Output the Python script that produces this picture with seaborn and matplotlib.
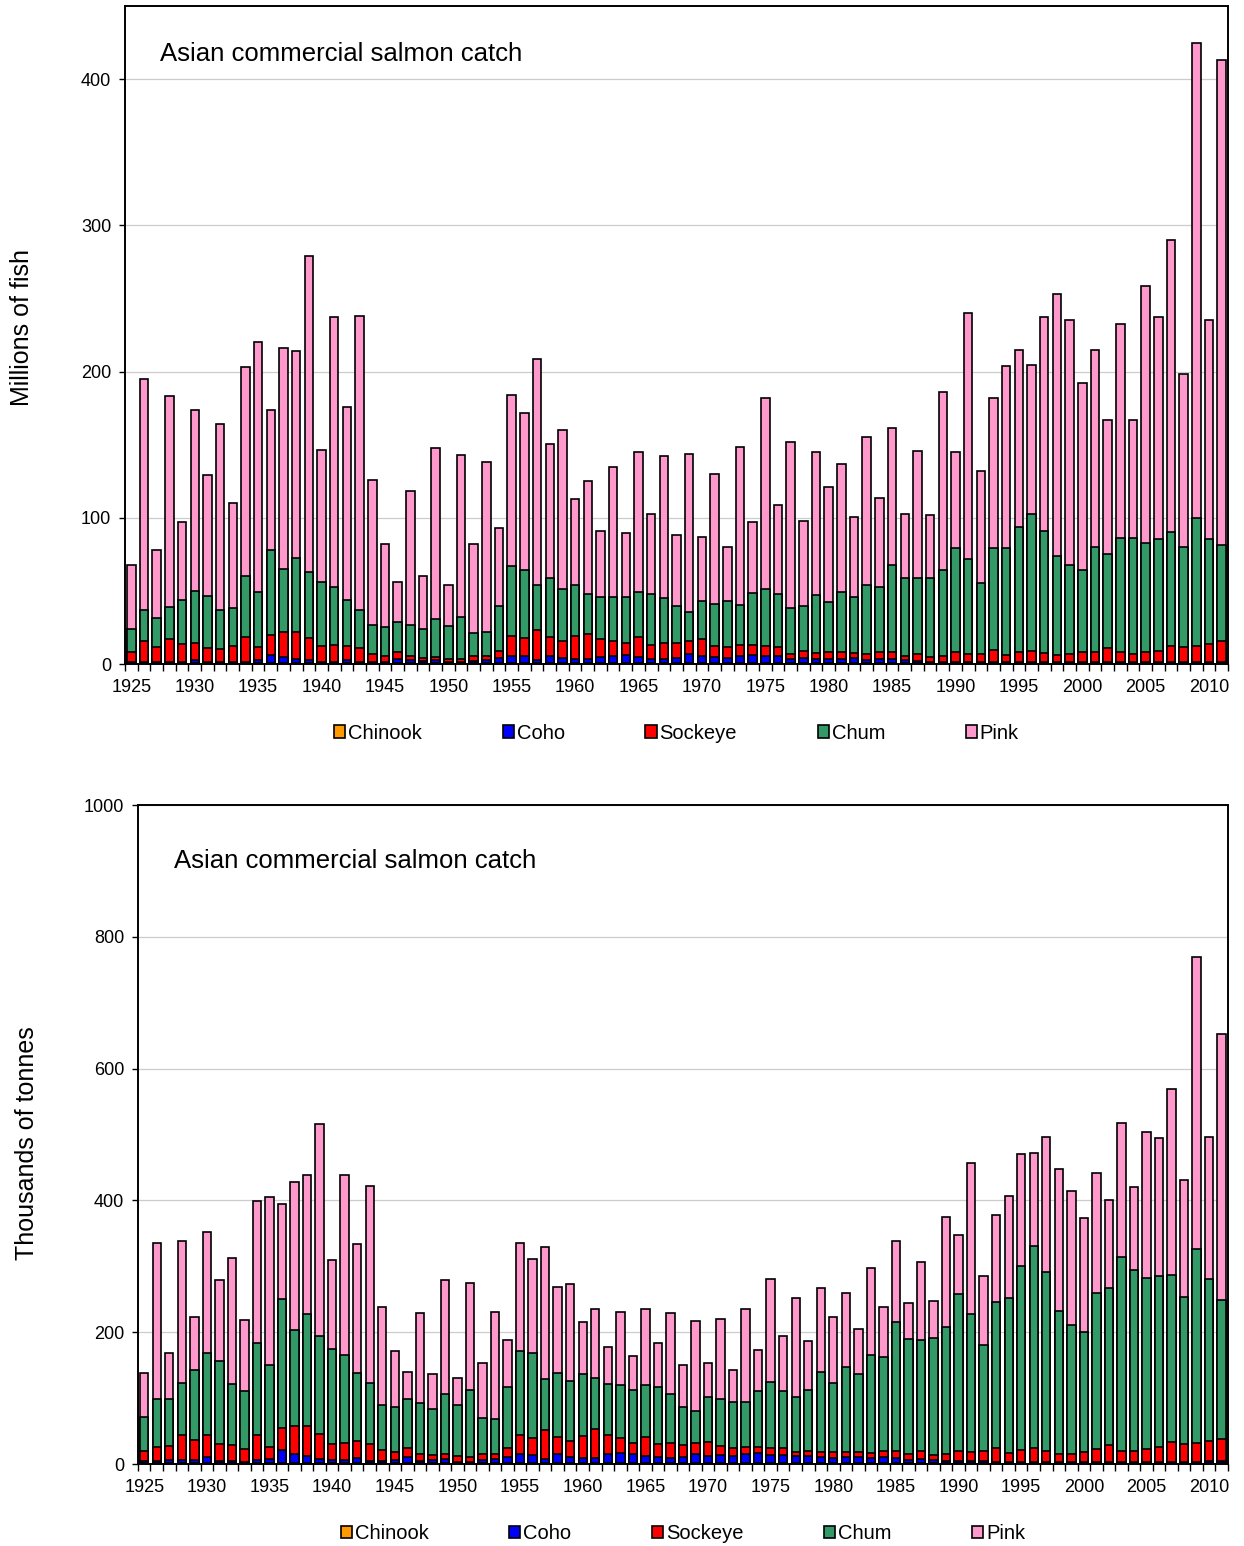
import numpy as np
import pandas as pd
import matplotlib
matplotlib.use("Agg")
import matplotlib.pyplot as plt
from matplotlib.patches import Patch
import seaborn as sns

years = list(range(1925, 2012))
species = ['Chinook', 'Coho', 'Sockeye', 'Chum', 'Pink']
colors = ['#FF9900', '#0000FF', '#FF0000', '#339966', '#FF99CC']

# millions of fish
fish_chinook = [0.5, 0.5, 0.5, 0.5, 0.5, 0.5, 0.5, 0.5, 0.5, 0.5,
                0.5, 0.5, 0.5, 0.5, 0.5, 0.5, 0.5, 0.5, 0.5, 0.5,
                0.5, 0.5, 0.5, 0.5, 0.5, 0.5, 0.5, 0.5, 0.5, 0.5,
                0.5, 0.5, 0.5, 0.5, 0.5, 0.5, 0.5, 0.5, 0.5, 0.5,
                0.5, 0.5, 0.5, 0.5, 0.5, 0.5, 0.5, 0.5, 0.5, 0.5,
                0.5, 0.5, 0.5, 0.5, 0.5, 0.5, 0.5, 0.5, 0.5, 0.5,
                0.5, 0.5, 0.5, 0.5, 0.5, 0.5, 0.5, 0.5, 0.5, 0.5,
                0.5, 0.5, 0.5, 0.5, 0.5, 0.5, 0.5, 0.5, 0.5, 0.5,
                0.5, 0.5, 0.5, 0.5, 0.5, 0.5, 0.5]
fish_coho = [1.0, 1.0, 1.0, 1.0, 1.0, 2.5, 1.0, 1.0, 1.0, 1.0,
             2.5, 5.9, 4.1, 3.2, 1.9, 1.0, 1.0, 2.5, 1.0, 1.0,
             1.0, 2.9, 2.5, 1.5, 1.9, 1.0, 1.0, 1.5, 2.5, 3.8,
             5.0, 5.0, 1.9, 4.7, 3.8, 3.2, 3.2, 4.1, 5.3, 5.9,
             4.4, 3.2, 2.9, 3.8, 6.2, 4.7, 4.4, 3.8, 5.3, 5.9,
             5.3, 4.7, 3.2, 3.8, 2.9, 3.2, 3.2, 3.8, 2.2, 3.2,
             2.9, 1.9, 1.5, 1.0, 1.0, 1.0, 1.0, 1.0, 1.0, 1.0,
             1.0, 1.0, 1.0, 1.0, 1.0, 1.0, 1.0, 1.0, 1.0, 1.0,
             1.0, 1.0, 1.0, 1.0, 1.0, 1.0, 1.0]
fish_sockeye = [7.0, 14.5, 10.1, 15.5, 12.5, 11.7, 9.2, 8.5, 10.5, 17.1,
                8.6, 13.1, 17.1, 18.0, 15.3, 10.5, 11.5, 9.5, 9.2, 5.5,
                4.3, 4.8, 2.5, 2.0, 2.6, 2.2, 2.2, 3.5, 2.8, 4.7,
                13.5, 12.2, 21.1, 13.4, 11.3, 15.3, 17.0, 12.2, 10.1, 8.0,
                13.4, 9.1, 11.3, 10.1, 8.9, 11.6, 7.6, 7.3, 7.0, 6.4,
                6.4, 6.1, 3.3, 4.6, 4.2, 4.8, 4.5, 3.3, 4.3, 4.2,
                4.5, 3.1, 5.0, 3.4, 3.7, 6.4, 5.5, 5.5, 8.0, 4.6,
                6.7, 7.7, 6.1, 4.9, 5.5, 6.4, 6.4, 9.2, 6.4, 5.2,
                7.0, 7.7, 11.0, 9.8, 10.7, 12.2, 14.4]
fish_chum = [15.3, 21.0, 19.9, 22.0, 30.0, 35.1, 36.0, 26.6, 26.0, 41.4,
             37.4, 58.5, 43.3, 51.0, 45.3, 44.0, 40.0, 31.2, 26.3, 20.0,
             19.8, 20.8, 21.5, 20.0, 25.5, 22.3, 28.3, 15.5, 16.2, 31.0,
             48.0, 46.3, 30.2, 40.4, 35.4, 35.0, 26.9, 28.7, 30.1, 31.1,
             30.7, 35.2, 30.3, 25.0, 19.8, 26.6, 28.5, 31.4, 27.8, 35.7,
             38.8, 36.7, 31.0, 30.5, 39.4, 33.9, 40.8, 38.2, 47.0, 44.9,
             60.1, 53.1, 52.0, 54.1, 59.2, 71.5, 64.8, 48.3, 69.5, 72.9,
             85.8, 93.1, 83.1, 67.2, 60.8, 56.5, 72.4, 64.7, 78.5, 79.7,
             74.2, 76.3, 77.9, 68.7, 87.8, 71.5, 65.3]
fish_pink = [44.2, 158.0, 46.5, 144.0, 53.4, 124.2, 82.3, 127.4, 72.0, 143.0,
             171.0, 96.0, 151.0, 141.3, 216.0, 90.6, 184.0, 131.9, 201.0, 99.0,
             56.4, 27.0, 91.5, 36.0, 117.0, 28.0, 111.0, 61.0, 116.0, 53.0,
             117.0, 108.0, 154.8, 91.5, 109.0, 59.0, 77.4, 45.5, 89.0, 44.0,
             96.0, 54.6, 97.6, 48.6, 108.1, 43.6, 89.0, 37.0, 108.1, 48.5,
             131.0, 61.0, 114.0, 58.6, 98.0, 78.6, 88.0, 55.0, 101.0, 60.8,
             93.5, 44.0, 87.0, 42.7, 121.6, 65.6, 168.2, 76.7, 102.7, 124.7,
             120.7, 102.3, 146.3, 179.2, 167.2, 128.0, 134.7, 91.3, 146.3, 80.6,
             175.9, 151.5, 199.4, 118.0, 324.4, 150.2, 331.8]

# thousands of tonnes
tonnes_chinook = [1.0, 1.0, 1.0, 1.0, 1.0, 1.0, 1.0, 1.0, 1.0, 1.0,
                  1.0, 1.0, 1.0, 1.0, 1.0, 1.0, 1.0, 1.0, 1.0, 1.0,
                  1.0, 1.0, 1.0, 1.0, 1.0, 1.0, 1.0, 1.0, 1.0, 1.0,
                  1.0, 1.0, 1.0, 1.0, 1.0, 1.0, 1.0, 1.0, 1.0, 2.0,
                  2.0, 2.0, 2.0, 2.0, 2.0, 2.0, 2.0, 2.0, 2.0, 2.0,
                  2.0, 2.0, 2.0, 2.0, 2.0, 2.0, 1.5, 1.5, 1.5, 1.5,
                  1.5, 1.5, 1.5, 1.5, 1.5, 1.5, 1.5, 1.5, 1.5, 1.5,
                  1.5, 1.5, 1.5, 1.5, 1.5, 1.5, 1.5, 1.5, 1.5, 1.5,
                  1.5, 1.5, 1.5, 1.5, 1.5, 1.5, 1.5]
tonnes_coho = [4.0, 3.0, 4.5, 5.0, 4.5, 9.6, 4.0, 3.0, 1.5, 5.0,
               6.6, 21.0, 13.6, 10.6, 6.6, 5.0, 4.5, 7.6, 3.5, 3.5,
               5.0, 9.0, 4.0, 5.5, 6.0, 2.5, 2.5, 4.5, 7.0, 9.0,
               15.0, 13.0, 6.0, 13.6, 10.0, 8.0, 8.0, 13.6, 16.0, 14.0,
               10.0, 8.0, 6.6, 8.0, 12.6, 10.0, 11.0, 9.6, 12.6, 15.0,
               12.0, 12.0, 9.6, 10.0, 8.0, 7.6, 9.5, 8.5, 7.5, 8.5,
               7.5, 4.0, 5.5, 4.0, 3.5, 2.5, 3.5, 2.8, 1.8, 1.8,
               1.0, 1.0, 1.0, 1.0, 1.0, 1.0, 1.0, 1.0, 1.0, 1.0,
               1.0, 1.0, 1.8, 1.0, 1.8, 2.8, 3.9]
tonnes_sockeye = [15.0, 21.7, 22.2, 37.8, 31.3, 33.2, 25.7, 24.7, 20.2, 38.8,
                  17.6, 33.0, 42.4, 46.8, 37.4, 24.7, 27.2, 26.4, 26.2, 16.5,
                  12.0, 13.7, 10.0, 6.5, 8.0, 8.5, 7.1, 10.1, 8.0, 13.7,
                  28.8, 24.8, 45.4, 26.7, 23.8, 34.3, 44.4, 29.2, 22.8, 16.7,
                  29.3, 20.2, 23.6, 19.2, 16.7, 21.8, 13.8, 13.1, 11.7, 8.8,
                  9.7, 10.2, 6.1, 8.2, 7.7, 8.6, 7.2, 8.2, 8.2, 9.7,
                  11.2, 10.2, 13.2, 8.5, 9.6, 16.2, 14.0, 15.3, 21.7, 14.1,
                  19.2, 22.0, 17.5, 12.2, 12.7, 16.0, 19.8, 26.8, 17.5, 17.1,
                  20.9, 23.5, 30.4, 27.9, 28.2, 30.5, 32.6]
tonnes_chum = [52.0, 73.3, 70.3, 79.2, 106.2, 124.0, 125.3, 93.3, 88.3, 139.2,
               124.8, 196.0, 146.0, 168.6, 149.0, 144.3, 133.0, 103.0, 92.7, 69.0,
               69.0, 74.3, 78.0, 70.6, 91.0, 78.0, 101.4, 54.9, 52.0, 93.3,
               127.2, 129.0, 76.6, 97.2, 91.2, 92.7, 76.6, 77.6, 79.6, 79.1,
               79.1, 86.8, 74.6, 57.4, 49.5, 67.7, 71.2, 69.7, 68.1, 85.8,
               101.0, 87.4, 84.3, 91.8, 122.3, 105.5, 128.8, 117.7, 148.8, 142.9,
               195.8, 173.3, 167.8, 178.0, 194.0, 237.8, 208.0, 160.4, 220.7, 234.2,
               278.8, 306.5, 271.8, 216.8, 196.2, 182.5, 237.5, 238.1, 294.7, 275.0,
               259.2, 259.0, 252.7, 223.6, 294.5, 245.6, 211.0]
tonnes_pink = [66.5, 237.0, 70.8, 215.0, 80.0, 184.8, 123.0, 190.0, 107.0, 214.5,
               254.5, 143.5, 225.0, 212.0, 322.0, 135.0, 273.3, 196.5, 298.3, 148.0,
               84.0, 41.0, 136.0, 52.9, 173.6, 41.0, 162.0, 82.5, 163.0, 71.0,
               163.5, 143.2, 201.0, 129.5, 147.6, 80.0, 106.0, 56.6, 110.6, 51.9,
               114.6, 67.0, 121.9, 63.0, 136.9, 51.5, 122.0, 49.0, 140.6, 61.4,
               156.1, 83.4, 150.0, 75.0, 127.0, 99.3, 113.0, 68.6, 132.0, 75.4,
               123.0, 56.0, 118.0, 56.0, 166.4, 89.0, 229.5, 106.0, 132.3, 154.9,
               170.2, 140.7, 204.9, 216.5, 203.6, 173.0, 181.2, 132.6, 202.1, 126.0,
               221.4, 210.0, 282.1, 177.0, 443.6, 216.3, 403.7]

sns.set_style("white")
plt.rcParams['font.family'] = ['Liberation Sans', 'DejaVu Sans']
plt.rcParams['text.color'] = 'black'
plt.rcParams['axes.labelcolor'] = 'black'
plt.rcParams['xtick.color'] = 'black'
plt.rcParams['ytick.color'] = 'black'


def draw_panel(ax, series, ymax, ystep, ylabel, label_xy, title_xy):
    df = pd.DataFrame({'year': years})
    for name, vals in zip(species, series):
        df[name] = vals
    cum = df[species].cumsum(axis=1)
    # stacked bars: draw cumulative totals from the top layer down
    for name, col in reversed(list(zip(species, colors))):
        sns.barplot(x=df['year'], y=cum[name], color=col, saturation=1,
                    width=0.67, edgecolor='black', linewidth=1.2,
                    errorbar=None, ax=ax, zorder=2)
    ax.set_xlim(-0.5, len(years) - 0.5)
    ax.set_ylim(0, ymax)
    ax.set_yticks(np.arange(0, ymax + 1, ystep))
    ax.yaxis.grid(True, color='#cccccc', linewidth=0.9)
    ax.set_axisbelow(True)
    ax.set_xticks(range(0, len(years), 5))
    ax.set_xticklabels([str(y) for y in years[::5]])
    ax.set_xticks(np.arange(-0.5, len(years), 1), minor=True)
    ax.tick_params(axis='x', which='major', length=0, pad=11, labelsize=13)
    ax.tick_params(axis='x', which='minor', length=5, width=1, direction='out',
                   bottom=True, color='black')
    ax.tick_params(axis='y', length=4, width=1, direction='out', left=True,
                   pad=6, labelsize=13, color='black')
    ax.set_xlabel('')
    ax.set_ylabel(ylabel, fontsize=18)
    ax.yaxis.set_label_coords(*label_xy)
    for sp in ax.spines.values():
        sp.set_visible(True)
        sp.set_color('black')
        sp.set_linewidth(1.4)
    ax.text(title_xy[0], title_xy[1], 'Asian commercial salmon catch',
            transform=ax.transAxes, fontsize=18.5, va='center', ha='left')
    handles = [Patch(facecolor=c, edgecolor='black', linewidth=1.2, label=s)
               for s, c in zip(species, colors)]
    ax.legend(handles=handles, loc='center', bbox_to_anchor=(0.5, -0.105),
              ncol=5, frameon=False, fontsize=14.5, handlelength=0.55,
              handleheight=0.55, handletextpad=0.15, columnspacing=4.0)


fig = plt.figure(figsize=(12.44, 15.46), dpi=100)
ax1 = fig.add_axes([0.1005, 0.5705, 0.8867, 0.4256])
ax2 = fig.add_axes([0.1109, 0.0530, 0.8762, 0.4263])

draw_panel(ax1, [fish_chinook, fish_coho, fish_sockeye, fish_chum, fish_pink],
           450, 100, 'Millions of fish', (-0.0825, 0.512), (0.032, 0.927))
draw_panel(ax2, [tonnes_chinook, tonnes_coho, tonnes_sockeye, tonnes_chum, tonnes_pink],
           1000, 200, 'Thousands of tonnes', (-0.091, 0.487), (0.033, 0.915))

fig.savefig('out.png', dpi=100)
plt.close(fig)
